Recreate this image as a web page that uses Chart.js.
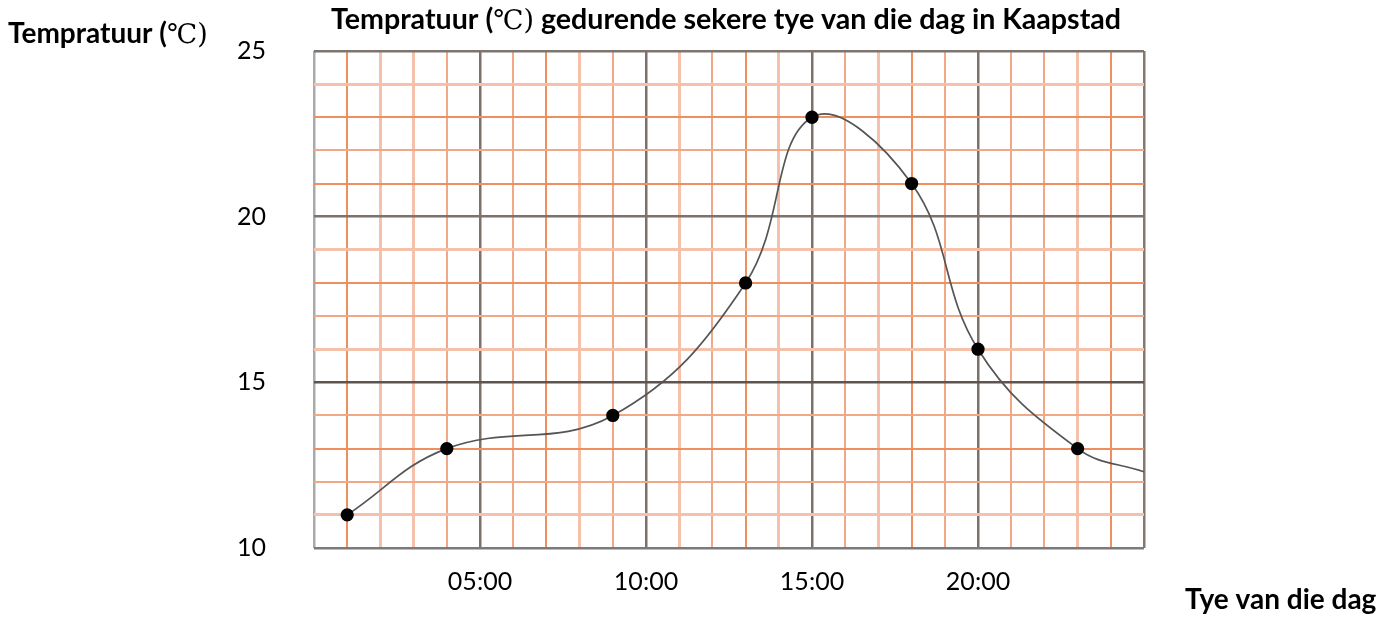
<!DOCTYPE html>
<html>
<head>
<meta charset="utf-8">
<script src="https://cdn.jsdelivr.net/npm/chart.js@4/dist/chart.umd.min.js"></script>
<style>
  html, body { margin: 0; padding: 0; background: #fff; }
  canvas { display: block; }
</style>
</head>
<body>
<canvas id="chart" width="1388" height="618"></canvas>
<script>
// Data.
const hours = [1, 4, 9, 13, 15, 18, 20, 23, 25];
const temps = [11, 13, 14, 18, 23, 21, 16, 13, 12.3];
// The last point only carries the curve to the edge, it has no marker.
const markerShown = [true, true, true, true, true, true, true, true, false];
const xTickLabels = {5: '05:00', 10: '10:00', 15: '15:00', 20: '20:00'};
const yTickLabels = {10: '10', 15: '15', 20: '20', 25: '25'};

// Titles, split where the degree sign switches to a thin font.
const chartTitle = ['Tempratuur (', '\u2103)', ' gedurende sekere tye van die dag in Kaapstad'];
const yTitle = ['Tempratuur (', '\u2103)'];
const xTitle = ['Tye van die dag'];

// Grid paper look: every line has its own shade of orange.
const shades = {
  S: {color: 'rgb(237,143,95)', width: 2},
  M: {color: 'rgb(240,168,135)', width: 2},
  L: {color: 'rgb(245,193,170)', width: 3},
};
const xLineKinds = 'xSLLMxMSLMxLMSLxMLSMxMMLSx';
const yLineKinds = 'xLMSMxLMSLxSMSLx';
const majorColors = {
  x0: '#aaaaaa', x25: '#84796f',
  y10: '#7a7a7a', y15: '#5f5550', y25: '#7f7570',
};

function lineStyle(axis, value) {
  if (value % 5 === 0) {
    return {color: majorColors[axis + value] || '#7d716b', width: 2.5};
  }
  const kinds = axis === 'x' ? xLineKinds : yLineKinds;
  const k = axis === 'x' ? kinds[value] : kinds[value - 10];
  return shades[k] || shades.M;
}

const font = 'Lato';
const boldFont = 'bold 28.6px ' + font;
const thinFont = '27px "DejaVu Serif", "Noto Sans CJK SC", serif';

// Draws bold text pieces, the odd pieces in the thin font.
function drawPieces(c, pieces, x, y, centered, size) {
  const bold = size ? 'bold ' + size + 'px ' + font : boldFont;
  const fonts = pieces.map((p, i) => (i % 2 === 1 ? thinFont : bold));
  const widths = pieces.map((p, i) => {
    c.font = fonts[i];
    return c.measureText(p).width;
  });
  let left = centered ? x - widths.reduce((a, b) => a + b, 0) / 2 : x;
  pieces.forEach((p, i) => {
    c.font = fonts[i];
    c.fillText(p, left, y);
    left += widths[i];
  });
}

const textPlugin = {
  id: 'texts',
  afterDraw(chart) {
    const c = chart.ctx;
    const area = chart.chartArea;
    c.save();
    c.fillStyle = '#000';
    c.textBaseline = 'alphabetic';
    c.textAlign = 'left';
    drawPieces(c, chartTitle, (area.left + area.right) / 2 - 3, 29, true);
    drawPieces(c, yTitle, 8, 43, false, 28);
    drawPieces(c, xTitle, 1185, 609, false, 28);
    c.restore();
  },
};

new Chart(document.getElementById('chart'), {
  type: 'line',
  data: {
    datasets: [{
      data: hours.map((h, i) => ({x: h, y: temps[i]})),
      borderColor: '#555555',
      borderWidth: 1.7,
      tension: 0.4,
      fill: false,
      pointBackgroundColor: '#000',
      pointBorderColor: '#000',
      pointRadius: (ctx) => (markerShown[ctx.dataIndex] ? 5.8 : 0),
      pointStyle: 'circle',
    }],
  },
  options: {
    responsive: false,
    animation: false,
    devicePixelRatio: 1,
    layout: {padding: {top: 51, right: 244, bottom: 0, left: 0}},
    plugins: {legend: {display: false}, tooltip: {enabled: false}},
    scales: {
      x: {
        type: 'linear',
        min: 0,
        max: 25,
        afterFit(s) { s.height = 70; },
        border: {display: false},
        grid: {
          drawTicks: false,
          color: (ctx) => lineStyle('x', ctx.tick.value).color,
          lineWidth: (ctx) => lineStyle('x', ctx.tick.value).width,
        },
        ticks: {
          stepSize: 1,
          autoSkip: false,
          maxRotation: 0,
          padding: 19,
          color: '#000',
          font: {family: font, size: 25},
          callback: (v) => xTickLabels[v] || '',
        },
      },
      y: {
        min: 10,
        max: 25,
        afterFit(s) { s.width = 314; },
        border: {display: false},
        grid: {
          drawTicks: true,
          tickLength: 24,
          tickColor: 'rgba(0,0,0,0)',
          color: (ctx) => lineStyle('y', ctx.tick.value).color,
          lineWidth: (ctx) => lineStyle('y', ctx.tick.value).width,
        },
        ticks: {
          stepSize: 1,
          autoSkip: false,
          padding: 24,
          color: '#000',
          font: {family: font, size: 25},
          callback: (v) => yTickLabels[v] || '',
        },
      },
    },
  },
  plugins: [textPlugin],
});
</script>
</body>
</html>
